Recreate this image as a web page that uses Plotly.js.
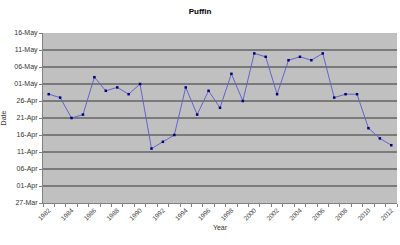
<!DOCTYPE html>
<html>
<head>
<meta charset="utf-8">
<script src="https://cdn.plot.ly/plotly-3.0.1.min.js"></script>
<style>html,body{margin:0;padding:0;background:#fff;}#chart{width:400px;height:245px;}</style>
</head>
<body>
<div id="chart"></div>
<script>
const years = [1982,1983,1984,1985,1986,1987,1988,1989,1990,1991,1992,1993,1994,1995,1996,1997,1998,1999,2000,2001,2002,2003,2004,2005,2006,2007,2008,2009,2010,2011,2012];
const arrivalDates = ['04-28','04-27','04-21','04-22','05-03','04-29','04-30','04-28','05-01','04-12','04-14','04-16','04-30','04-22','04-29','04-24','05-04','04-26','05-10','05-09','04-28','05-08','05-09','05-08','05-10','04-27','04-28','04-28','04-18','04-15','04-13'];
const yearTickLabels = ['1982','1984','1986','1988','1990','1992','1994','1996','1998','2000','2002','2004','2006','2008','2010','2012'];
const refYear = '2001';

const yVals = arrivalDates.map(d => refYear + '-' + d);
const DAY = 86400000;

Plotly.newPlot('chart', [{
  x: years,
  y: yVals,
  type: 'scatter',
  mode: 'lines+markers',
  line: {color: '#6464cc', width: 1},
  marker: {color: '#000080', size: 2.5, symbol: 'square'},
  hoverinfo: 'skip'
}], {
  width: 400, height: 245,
  margin: {l: 43, r: 3, t: 33, b: 42},
  paper_bgcolor: '#ffffff',
  plot_bgcolor: '#c0c0c0',
  showlegend: false,
  font: {family: 'Liberation Sans, Arial, sans-serif', size: 7, color: '#333333'},
  title: {text: '<b>Puffin</b>', x: 0.5, xanchor: 'center', y: 0.955, yanchor: 'middle',
          font: {size: 8, color: '#000000'}},
  xaxis: {
    type: 'linear',
    range: [1981.5, 2012.5],
    tickmode: 'array',
    tickvals: yearTickLabels.map(Number),
    ticktext: yearTickLabels,
    tickangle: -45,
    ticks: '',
    showgrid: false,
    zeroline: false,
    showline: true, linecolor: '#808080', linewidth: 1,
    tickfont: {size: 6.5, color: '#444444'},
    minor: {tick0: 1981.5, dtick: 1, ticks: 'outside', ticklen: 3, tickcolor: '#808080', showgrid: false},
    title: {text: 'Year', font: {size: 7, color: '#333333'}, standoff: 4}
  },
  yaxis: {
    type: 'date',
    range: [refYear + '-03-27', refYear + '-05-16'],
    tick0: refYear + '-03-27',
    dtick: 5 * DAY,
    tickformat: '%d-%b',
    ticks: 'outside', ticklen: 3, tickcolor: '#808080',
    showgrid: true, gridcolor: '#7a7a7a', gridwidth: 1.5,
    showline: true, linecolor: '#808080', linewidth: 1,
    zeroline: false,
    tickfont: {size: 7, color: '#333333'},
    title: {text: 'Date', font: {size: 7, color: '#333333'}, standoff: 8}
  }
}, {staticPlot: true, displayModeBar: false});
</script>
</body>
</html>
